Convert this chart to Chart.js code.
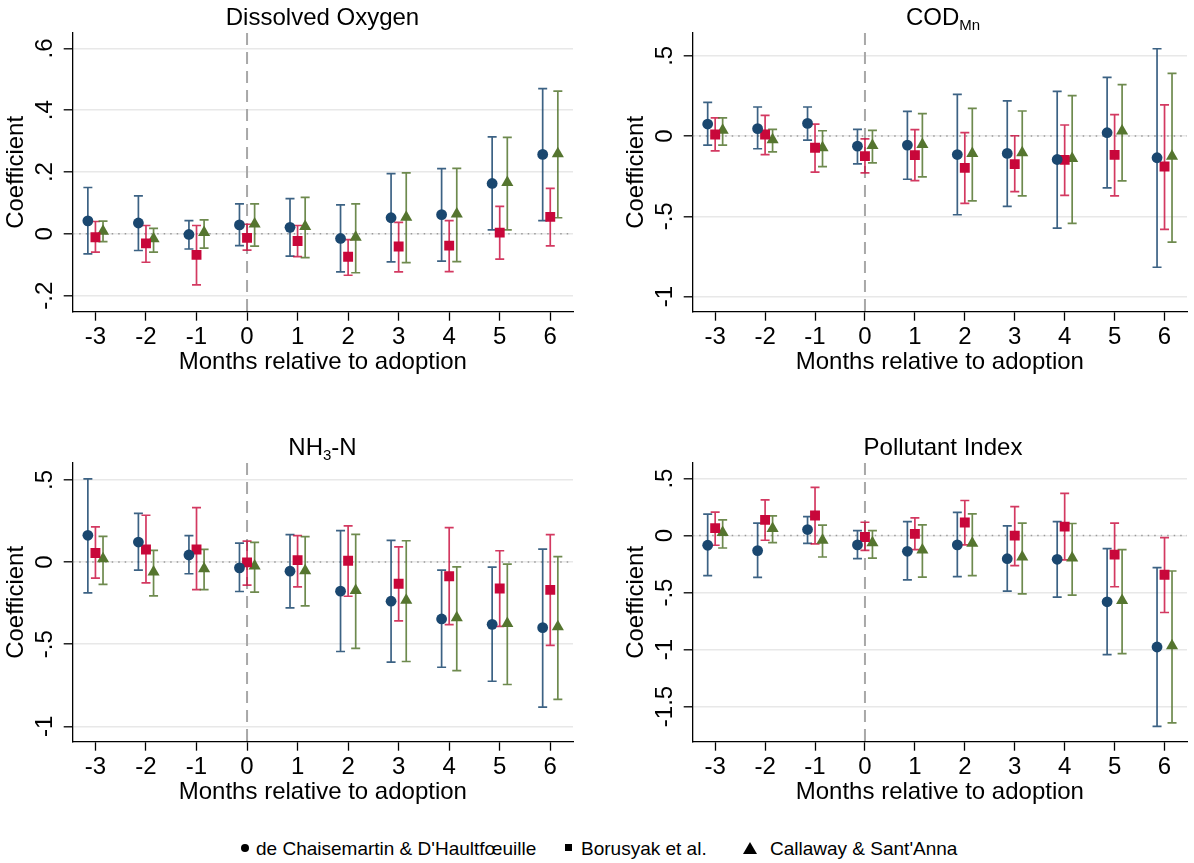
<!DOCTYPE html>
<html>
<head>
<meta charset="utf-8">
<script src="https://cdn.jsdelivr.net/npm/chart.js@4.4.1/dist/chart.umd.min.js"></script>
<style>
  body { margin: 0; background: #fff; font-family: "Liberation Sans", Arial, sans-serif; }
  #wrap { position: relative; width: 1194px; height: 863px; overflow: hidden; }
  canvas { position: absolute; }
  .title { position: absolute; font-size: 24px; line-height: 24px; text-align: center; color: #000; }
  .title sub { font-size: 15px; vertical-align: -5px; line-height: 0; }
  .leg { position: absolute; top: 838px; font-size: 19px; line-height: 22px; color: #000; white-space: nowrap; }
  .mk { display: inline-block; vertical-align: middle; margin-right: 7px; position: relative; top: -2px; }
</style>
</head>
<body>
<div id="wrap">
  <canvas id="c1" width="597" height="400" style="left:0;top:0"></canvas>
  <canvas id="c2" width="597" height="400" style="left:597px;top:0"></canvas>
  <canvas id="c3" width="597" height="400" style="left:0;top:430px"></canvas>
  <canvas id="c4" width="597" height="400" style="left:597px;top:430px"></canvas>

  <div class="title" style="left:72px;width:501px;top:5px">Dissolved Oxygen</div>
  <div class="title" style="left:692px;width:502px;top:5px">COD<sub>Mn</sub></div>
  <div class="title" style="left:72px;width:501px;top:435px">NH<sub>3</sub>-N</div>
  <div class="title" style="left:692px;width:502px;top:435px">Pollutant Index</div>

  <div class="leg" style="left:241px"><span class="mk" style="width:8px;height:8px;border-radius:50%;background:#000"></span>de Chaisemartin &amp; D'Haultfœuille</div>
  <div class="leg" style="left:565px"><span class="mk" style="width:7px;height:7px;background:#000;margin-right:9px"></span>Borusyak et al.</div>
  <div class="leg" style="left:743px"><span class="mk" style="width:0;height:0;border-left:7px solid transparent;border-right:7px solid transparent;border-bottom:12px solid #000;margin-right:13px"></span>Callaway &amp; Sant'Anna</div>
</div>

<script>
// event time
const months = [-3, -2, -1, 0, 1, 2, 3, 4, 5, 6];

// Dissolved Oxygen
const doDcdh   = [0.042, 0.035, -0.002, 0.029, 0.021, -0.015, 0.052, 0.062, 0.163, 0.257];
const doDcdhLo = [-0.065, -0.054, -0.049, -0.038, -0.072, -0.123, -0.091, -0.088, 0.013, 0.043];
const doDcdhHi = [0.150, 0.123, 0.043, 0.097, 0.114, 0.094, 0.195, 0.211, 0.314, 0.470];
const doBjs    = [-0.011, -0.031, -0.068, -0.013, -0.023, -0.074, -0.041, -0.038, 0.004, 0.055];
const doBjsLo  = [-0.059, -0.092, -0.165, -0.053, -0.074, -0.134, -0.123, -0.122, -0.082, -0.039];
const doBjsHi  = [0.040, 0.027, 0.027, 0.031, 0.027, -0.019, 0.037, 0.043, 0.089, 0.147];
const doCs     = [0.008, -0.016, 0.004, 0.032, 0.024, -0.011, 0.054, 0.064, 0.166, 0.259];
const doCsLo   = [-0.025, -0.059, -0.046, -0.040, -0.077, -0.126, -0.093, -0.090, 0.013, 0.052];
const doCsHi   = [0.041, 0.018, 0.045, 0.097, 0.118, 0.097, 0.197, 0.212, 0.312, 0.462];

// COD Mn
const codDcdh   = [0.075, 0.046, 0.079, -0.063, -0.056, -0.115, -0.108, -0.146, 0.021, -0.135];
const codDcdhLo = [-0.056, -0.079, -0.025, -0.173, -0.269, -0.490, -0.438, -0.573, -0.323, -0.817];
const codDcdhHi = [0.210, 0.181, 0.181, 0.042, 0.154, 0.260, 0.219, 0.279, 0.365, 0.544];
const codBjs    = [0.010, 0.010, -0.073, -0.125, -0.119, -0.198, -0.175, -0.148, -0.117, -0.190];
const codBjsLo  = [-0.092, -0.115, -0.225, -0.229, -0.277, -0.419, -0.346, -0.369, -0.373, -0.581];
const codBjsHi  = [0.113, 0.129, 0.075, -0.017, 0.040, 0.021, 0.002, 0.069, 0.133, 0.194];
const codCs     = [0.037, -0.023, -0.073, -0.058, -0.052, -0.108, -0.104, -0.140, 0.031, -0.125];
const codCsLo   = [-0.056, -0.098, -0.190, -0.167, -0.254, -0.404, -0.373, -0.544, -0.279, -0.660];
const codCsHi   = [0.113, 0.042, 0.033, 0.035, 0.140, 0.173, 0.156, 0.252, 0.321, 0.390];

// NH3-N
const nhDcdh   = [0.163, 0.122, 0.043, -0.035, -0.055, -0.177, -0.238, -0.346, -0.379, -0.399];
const nhDcdhLo = [-0.187, -0.049, -0.071, -0.179, -0.279, -0.544, -0.609, -0.640, -0.725, -0.882];
const nhDcdhHi = [0.507, 0.297, 0.161, 0.116, 0.167, 0.191, 0.132, -0.049, -0.031, 0.079];
const nhBjs    = [0.055, 0.077, 0.077, -0.002, 0.012, 0.008, -0.132, -0.086, -0.161, -0.169];
const nhBjsLo  = [-0.098, -0.126, -0.167, -0.140, -0.151, -0.208, -0.358, -0.381, -0.391, -0.507];
const nhBjsHi  = [0.214, 0.285, 0.332, 0.128, 0.161, 0.220, 0.092, 0.210, 0.069, 0.167];
const nhCs     = [0.020, -0.061, -0.041, -0.024, -0.053, -0.173, -0.232, -0.338, -0.373, -0.393];
const nhCsLo   = [-0.136, -0.206, -0.167, -0.183, -0.267, -0.525, -0.605, -0.660, -0.745, -0.835];
const nhCsHi   = [0.157, 0.071, 0.077, 0.120, 0.155, 0.169, 0.130, -0.029, -0.012, 0.033];

// Pollutant Index
const piDcdh   = [-0.085, -0.132, 0.053, -0.082, -0.138, -0.082, -0.203, -0.208, -0.581, -0.978];
const piDcdhLo = [-0.352, -0.367, -0.068, -0.203, -0.388, -0.361, -0.487, -0.540, -1.045, -1.674];
const piDcdhHi = [0.188, 0.109, 0.167, 0.044, 0.123, 0.203, 0.085, 0.123, -0.115, -0.282];
const piBjs    = [0.065, 0.138, 0.176, -0.012, 0.015, 0.115, 0.000, 0.079, -0.167, -0.344];
const piBjsLo  = [-0.085, -0.041, -0.073, -0.129, -0.123, -0.082, -0.264, -0.214, -0.449, -0.675];
const piBjsHi  = [0.206, 0.314, 0.423, 0.117, 0.156, 0.308, 0.255, 0.370, 0.109, -0.018];
const piCs     = [0.026, 0.062, -0.041, -0.062, -0.126, -0.068, -0.188, -0.197, -0.570, -0.966];
const piCsLo   = [-0.109, -0.062, -0.188, -0.197, -0.364, -0.352, -0.511, -0.523, -1.036, -1.644];
const piCsHi   = [0.138, 0.173, 0.091, 0.044, 0.094, 0.191, 0.109, 0.106, -0.123, -0.311];

// y tick values / labels
const doTicks  = [-0.2, 0, 0.2, 0.4, 0.6];
const doLabels = ['-.2', '0', '.2', '.4', '.6'];
const codTicks  = [-1, -0.5, 0, 0.5];
const codLabels = ['-1', '-.5', '0', '.5'];
const nhTicks  = [-1, -0.5, 0, 0.5];
const nhLabels = ['-1', '-.5', '0', '.5'];
const piTicks  = [-1.5, -1, -0.5, 0, 0.5];
const piLabels = ['-1.5', '-1', '-.5', '0', '.5'];

const seriesNames = ["de Chaisemartin & D'Haultfœuille", 'Borusyak et al.', "Callaway & Sant'Anna"];

// styles
const BLUE = '#1a476f', RED = '#c8073a', GREEN = '#55752f';
const styles = [
  { color: BLUE,  bar: 'rgba(26,71,111,0.85)',  shape: 'circle',   r: 5.4, dx: -0.15 },
  { color: RED,   bar: 'rgba(200,7,58,0.8)',    shape: 'rect',     r: 7.0, dx: 0 },
  { color: GREEN, bar: 'rgba(85,117,47,0.85)',  shape: 'triangle', r: 7.0, dx: 0.15 }
];
const FONT = '"Liberation Sans", Arial, sans-serif';

const refLines = {
  id: 'refLines',
  beforeDatasetsDraw(chart) {
    const { ctx, chartArea: a, scales: { x, y } } = chart;
    ctx.save();
    // dotted zero line
    ctx.strokeStyle = '#9a9a9a';
    ctx.lineWidth = 1.5;
    ctx.setLineDash([1.5, 5]);
    const y0 = y.getPixelForValue(0);
    ctx.beginPath(); ctx.moveTo(a.left, y0); ctx.lineTo(a.right, y0); ctx.stroke();
    // dashed adoption line
    ctx.strokeStyle = '#a8a8a8';
    ctx.lineWidth = 2;
    ctx.setLineDash([12, 7]);
    const x0 = x.getPixelForValue(0);
    ctx.beginPath(); ctx.moveTo(x0, a.top); ctx.lineTo(x0, a.bottom); ctx.stroke();
    ctx.restore();
  }
};

const errorBars = {
  id: 'errorBars',
  beforeDatasetsDraw(chart) {
    const { ctx, scales: { x, y } } = chart;
    chart.data.datasets.forEach(ds => {
      ctx.save();
      ctx.strokeStyle = ds.barColor;
      ctx.lineWidth = 1.7;
      ds.data.forEach((pt, i) => {
        const px = x.getPixelForValue(pt.x);
        const lo = y.getPixelForValue(ds.lo[i]);
        const hi = y.getPixelForValue(ds.hi[i]);
        ctx.beginPath();
        ctx.moveTo(px, lo); ctx.lineTo(px, hi);
        ctx.moveTo(px - 4.5, lo); ctx.lineTo(px + 4.5, lo);
        ctx.moveTo(px - 4.5, hi); ctx.lineTo(px + 4.5, hi);
        ctx.stroke();
      });
      ctx.restore();
    });
  }
};

function makeChart(id, padLeft, padRight, coefs, los, his, yMin, yMax, yTicks, yLabels) {
  const yTickLabels = {
    id: 'yTickLabels',
    afterDraw(chart) {
      const { ctx, scales: { y } } = chart;
      ctx.save();
      ctx.font = '24px ' + FONT;
      ctx.fillStyle = '#000';
      ctx.textAlign = 'center';
      ctx.textBaseline = 'middle';
      yTicks.forEach((v, i) => {
        ctx.save();
        ctx.translate(y.right - 27, y.getPixelForValue(v));
        ctx.rotate(-Math.PI / 2);
        ctx.fillText(yLabels[i], 0, 0);
        ctx.restore();
      });
      ctx.restore();
    }
  };

  const datasets = styles.map((st, k) => ({
    label: seriesNames[k],
    data: months.map((m, i) => ({ x: m + st.dx, y: coefs[k][i] })),
    lo: los[k],
    hi: his[k],
    barColor: st.bar,
    pointStyle: st.shape,
    pointRadius: st.r,
    pointBackgroundColor: st.color,
    pointBorderWidth: 0,
    showLine: false
  }));

  return new Chart(document.getElementById(id), {
    type: 'scatter',
    data: { datasets },
    options: {
      responsive: false,
      animation: false,
      layout: { padding: { top: 33, left: padLeft, right: padRight, bottom: 0 } },
      plugins: { legend: { display: false }, tooltip: { enabled: false } },
      scales: {
        x: {
          type: 'linear',
          min: -3.45,
          max: 6.45,
          afterBuildTicks: s => { s.ticks = months.map(v => ({ value: v })); },
          afterFit: s => { s.height = 88.3; },
          grid: { drawOnChartArea: false, drawTicks: true, tickLength: 9, tickColor: '#000', tickWidth: 1.3 },
          border: { color: '#000', width: 1.3 },
          ticks: { color: '#000', font: { family: FONT, size: 24 }, padding: 2, maxRotation: 0, autoSkip: false },
          title: { display: true, text: 'Months relative to adoption', color: '#000',
                   font: { family: FONT, size: 24 }, padding: { top: 0, bottom: 23 } }
        },
        y: {
          min: yMin,
          max: yMax,
          afterBuildTicks: s => { s.ticks = yTicks.map(v => ({ value: v })); },
          afterFit: s => { s.width = 72.7; },
          grid: { color: '#e8e8e8', lineWidth: 1.6, drawTicks: true, tickLength: 9, tickColor: '#000', tickWidth: 1.3 },
          border: { color: '#000', width: 1.3 },
          ticks: { display: false },
          title: { display: true, text: 'Coefficient', color: '#000',
                   font: { family: FONT, size: 24 }, padding: { top: 2.3, bottom: 0 } }
        }
      }
    },
    plugins: [refLines, errorBars, yTickLabels]
  });
}

makeChart('c1', 0, 24,
  [doDcdh, doBjs, doCs], [doDcdhLo, doBjsLo, doCsLo], [doDcdhHi, doBjsHi, doCsHi],
  -0.252, 0.65, doTicks, doLabels);
makeChart('c2', 23, 0,
  [codDcdh, codBjs, codCs], [codDcdhLo, codBjsLo, codCsLo], [codDcdhHi, codBjsHi, codCsHi],
  -1.094, 0.642, codTicks, codLabels);
makeChart('c3', 0, 24,
  [nhDcdh, nhBjs, nhCs], [nhDcdhLo, nhBjsLo, nhCsLo], [nhDcdhHi, nhBjsHi, nhCsHi],
  -1.093, 0.603, nhTicks, nhLabels);
makeChart('c4', 23, 0,
  [piDcdh, piBjs, piCs], [piDcdhLo, piBjsLo, piCsLo], [piDcdhHi, piBjsHi, piCsHi],
  -1.809, 0.637, piTicks, piLabels);
</script>
</body>
</html>
